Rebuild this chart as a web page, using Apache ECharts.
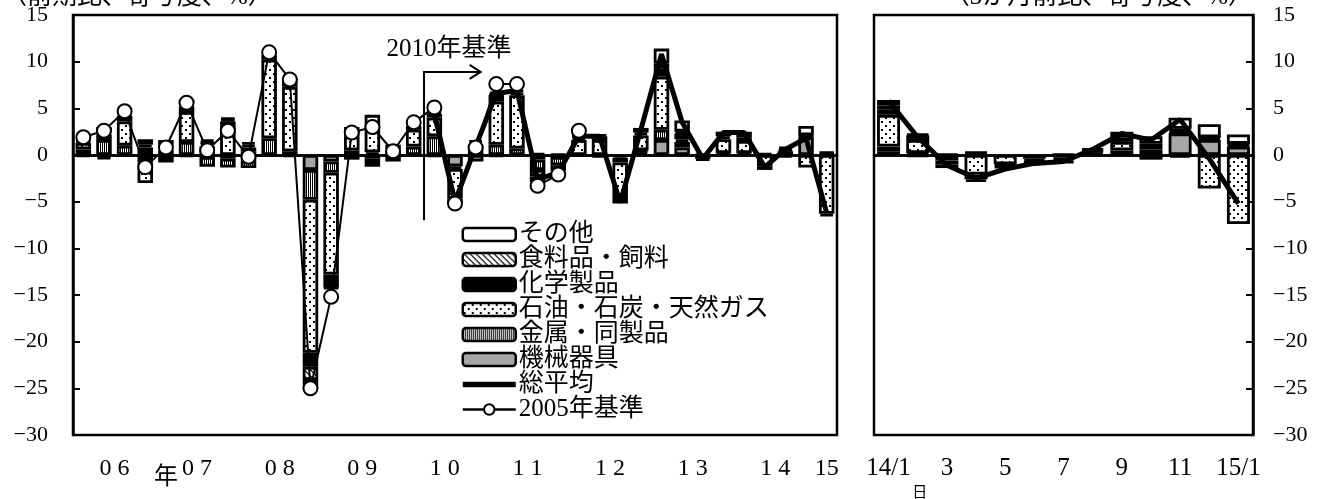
<!DOCTYPE html>
<html>
<head>
<meta charset="utf-8">
<script src="https://cdn.jsdelivr.net/npm/echarts@6.0.0/dist/echarts.min.js"></script>
<style>
  html, body { margin: 0; padding: 0; background: #fff; }
  #chart { width: 1320px; height: 499px; }
</style>
</head>
<body>
<div id="chart"></div>
<script>
// 四半期（前期比、寄与度、%） 2006/1Q - 2015/1Q
var quarters = ['06/1','06/2','06/3','06/4','07/1','07/2','07/3','07/4','08/1','08/2','08/3','08/4',
  '09/1','09/2','09/3','09/4','10/1','10/2','10/3','10/4','11/1','11/2','11/3','11/4',
  '12/1','12/2','12/3','12/4','13/1','13/2','13/3','13/4','14/1','14/2','14/3','14/4','15/1'];
var yearLabels = ['0 6', '0 7', '0 8', '0 9', '1 0', '1 1', '1 2', '1 3', '1 4', '15'];

var machineryQ = [-0.2,-0.2,-0.1,-0.2,-0.2,-0.2,-0.2,-0.4,-0.5,-0.1,-0.2,-1.6,-0.7,-0.5,-0.4,-0.2,-0.1,-0.2,-1.2,-0.7,-0.2,-0.1,-0.5,-0.2,-0.1,-0.1,-0.3,0.3,1.6,0.8,0,0.2,0.2,0.2,0.4,1.9,0.2];
var metalQ = [0.6,1.6,1.0,-0.6,0.5,1.4,-1.05,-0.95,-0.9,1.8,0.4,-3.2,-1.2,0.5,0.3,0,0.9,2.0,-0.3,0.4,1.1,0.7,-1.1,-0.9,0,-0.1,-0.5,0.2,1.1,0.6,0,0,0,0,0,0.1,0];
var oilQ = [0.7,0.6,2.6,-2.2,-0.6,3.2,0.9,3.0,0.4,8.4,6.9,-16.4,-10.9,1.5,2.6,0.4,1.8,2.0,-3.2,0.6,4.6,5.7,-0.7,-0.6,1.6,1.6,-3.6,1.6,5.7,0.3,-0.4,1.5,1.3,-1.2,-0.3,-1.35,-6.3];
var chemQ = [0.2,-0.25,0.6,0.8,0.3,0.6,0.3,0.6,0.4,0.5,0.6,-1.5,-1.4,0.5,-0.85,-0.5,0.4,0.4,-0.5,0.3,0.7,0.3,-0.6,-0.3,0.3,0.4,-0.8,0.3,0.9,0.6,-0.2,0.3,0.4,-0.4,0.2,0.1,-0.3];
var foodQ = [0.1,0.2,0.2,0.3,0.3,0.3,0.2,0.2,0.3,0.3,0.4,-1.4,-0.1,0,0.4,0.2,0.2,0,0,0,0.1,0,0,0,0,0.2,0,0,0.5,0.2,0,0,0,0,0,0,0];
var otherQ = [0.3,0.6,0.3,0.6,0.5,0.4,0.3,0.2,0.3,0.2,0.3,-0.9,0,0.5,1.0,0.5,0.3,0.2,0,0.3,0.3,0.3,0.2,0.1,0.2,0,0,0.5,1.6,1.2,0.1,0.5,0.6,0,0.3,1.0,0.1];
var totalQ = [null,null,null,null,null,null,null,null,null,null,null,null,null,null,null,null,null,
  4.4,-5.0,0.9,6.6,6.9,-2.6,-1.9,2.0,2.0,-5.1,2.7,10.8,3.5,-0.4,2.4,2.4,-1.3,0.6,1.8,-6.2];
var base2005Q = [1.9,2.6,4.7,-1.3,0.8,5.6,0.5,2.6,-0.2,11.0,8.1,-25.0,-15.2,2.4,3.0,0.4,3.5,5.1,-5.2,0.8,7.6,7.6,-3.3,-2.1,2.6,
  null,null,null,null,null,null,null,null,null,null,null,null];

// 月次（3か月前比、寄与度、%） 2014/1 - 2015/1
var months = ['14/1','14/2','14/3','14/4','14/5','14/6','14/7','14/8','14/9','14/10','14/11','14/12','15/1'];
var monthLabels = ['14/1','','3','','5','','7','','9','','11','','15/1'];
var machineryM = [0.4,0.2,0.1,0.2,0,0,0.1,0.3,0.5,0.6,2.3,1.6,0.9];
var metalM = [0.5,0,0,0.1,0,0,0,0,0,0,0.1,0,0];
var oilM = [3.4,1.4,-0.6,-2.1,-1.0,-0.4,-0.3,0.2,0.9,-0.5,-0.3,-3.6,-7.4];
var chemM = [0.6,0.5,-0.4,-0.5,-0.2,-0.3,-0.3,0,0.5,0.6,0.2,0.2,0.2];
var foodM = [0.4,-0.2,0,0,0,0,0,0,0,0,0.2,0.1,0.1];
var otherM = [0.6,0.15,-0.4,-0.3,-0.2,-0.2,-0.3,0.2,0.6,0.8,1.2,1.4,1.0];
var totalM = [5.8,1.9,-1.1,-2.5,-1.5,-0.9,-0.7,0.6,2.3,1.6,3.8,-0.4,-5.2];

var yTicks = [-30, 15, 5]; // min, max, interval

var FONT_NUM = '"Liberation Serif", "Noto Sans CJK JP", serif';

// 塗りパターン
function makePattern(w, h, draw) {
  var c = document.createElement('canvas');
  c.width = w; c.height = h;
  var g = c.getContext('2d');
  g.fillStyle = '#fff';
  g.fillRect(0, 0, w, h);
  draw(g);
  return { image: c, repeat: 'repeat' };
}
var whiteFill = '#ffffff';
var grayFill = '#a6a6a6';
var blackFill = '#000000';
var dotFill = makePattern(8, 8, function (g) {
  g.fillStyle = '#000';
  g.fillRect(1, 1, 2, 2);
  g.fillRect(5, 5, 2, 2);
});
var stripeFill = makePattern(2, 2, function (g) {
  g.fillStyle = '#000';
  g.fillRect(0, 0, 1, 2);
});
var hatchFill = makePattern(6, 6, function (g) {
  g.fillStyle = '#333';
  for (var i = 0; i < 6; i++) {
    g.fillRect(i, i, 1, 1);
    g.fillRect((i + 1) % 6, i, 1, 1);
  }
});

// 積み上げ順（下から）
var parts = [
  { name: '機械器具', q: machineryQ, m: machineryM, fill: grayFill },
  { name: '金属・同製品', q: metalQ, m: metalM, fill: stripeFill },
  { name: '石油・石炭・天然ガス', q: oilQ, m: oilM, fill: dotFill },
  { name: '化学製品', q: chemQ, m: chemM, fill: blackFill },
  { name: '食料品・飼料', q: foodQ, m: foodM, fill: hatchFill },
  { name: 'その他', q: otherQ, m: otherM, fill: whiteFill }
];

function clean(arr) {
  return arr.map(function (v) { return v === 0 ? null : v; });
}

var zeroLine = {
  silent: true, symbol: 'none', animation: false,
  label: { show: false },
  lineStyle: { color: '#000', width: 2.5, type: 'solid' },
  data: [{ yAxis: 0 }]
};

var series = [];
parts.forEach(function (p, k) {
  series.push({
    name: p.name, type: 'bar', stack: 'q', xAxisIndex: 0, yAxisIndex: 0,
    barWidth: 15.5, data: clean(p.q),
    itemStyle: { color: p.fill, borderColor: '#000', borderWidth: 2.8 },
    markLine: k === 0 ? zeroLine : undefined
  });
  series.push({
    name: p.name, type: 'bar', stack: 'm', xAxisIndex: 1, yAxisIndex: 1,
    barWidth: 23, data: clean(p.m),
    itemStyle: { color: p.fill, borderColor: '#000', borderWidth: 2.8 },
    markLine: k === 0 ? zeroLine : undefined
  });
});
series.push({
  name: '総平均', type: 'line', xAxisIndex: 0, yAxisIndex: 0, data: totalQ,
  symbol: 'none', z: 5, lineStyle: { color: '#000', width: 5 }, itemStyle: { color: '#000' }
});
series.push({
  name: '総平均', type: 'line', xAxisIndex: 1, yAxisIndex: 1, data: totalM,
  symbol: 'none', z: 5, lineStyle: { color: '#000', width: 5 }, itemStyle: { color: '#000' }
});
series.push({
  name: '2005年基準', type: 'line', xAxisIndex: 0, yAxisIndex: 0, data: base2005Q,
  symbol: 'circle', symbolSize: 14, showAllSymbol: true, z: 6,
  lineStyle: { color: '#000', width: 2 },
  itemStyle: { color: '#fff', borderColor: '#000', borderWidth: 2 }
});

function yLabel(v) { return v < 0 ? '\u2212' + (-v) : String(v); }

function yAxisFor(grid, pos) {
  return {
    gridIndex: grid, type: 'value', position: pos,
    min: yTicks[0], max: yTicks[1], interval: yTicks[2],
    splitLine: { show: false },
    axisLine: { show: true, lineStyle: { color: '#000', width: 2.5 } },
    axisTick: { show: true, inside: true, length: 7, lineStyle: { color: '#000', width: 2 } },
    axisLabel: { color: '#000', fontSize: 22, fontFamily: FONT_NUM, margin: pos === 'left' ? 25 : 20, formatter: yLabel }
  };
}

var tickEveryYear = function (i) { return i % 4 === 0; };

var option = {
  animation: false,
  backgroundColor: '#fff',
  grid: [
    { left: 73, top: 15, width: 764, height: 420, show: true, borderColor: '#000', borderWidth: 2.5 },
    { left: 874, top: 15, width: 379, height: 420, show: true, borderColor: '#000', borderWidth: 2.5 }
  ],
  xAxis: [
    {
      gridIndex: 0, type: 'category', data: quarters, position: 'bottom',
      axisLine: { lineStyle: { color: '#000', width: 2.5 } },
      axisTick: { inside: true, length: 8, interval: tickEveryYear, lineStyle: { color: '#000', width: 2 } },
      axisLabel: {
        interval: function (i) { return i % 4 === 1 || i === 36; },
        margin: 22, color: '#000', fontSize: 24, fontFamily: FONT_NUM,
        formatter: function (v, i) {
          if (i === 36) return yearLabels[9];
          return '{y|' + yearLabels[Math.floor(i / 4)] + '}';
        },
        rich: { y: { fontSize: 24, fontFamily: FONT_NUM, color: '#000', padding: [0, 0, 0, 21] } }
      }
    },
    {
      gridIndex: 1, type: 'category', data: months, position: 'bottom',
      axisLine: { lineStyle: { color: '#000', width: 2.5 } },
      axisTick: { show: false },
      axisLabel: {
        interval: 0, margin: 21, color: '#000', fontSize: 25, fontFamily: FONT_NUM,
        formatter: function (v, i) { return monthLabels[i]; }
      }
    },
    {
      gridIndex: 0, type: 'category', data: quarters, position: 'bottom',
      axisLine: { show: false },
      axisTick: { inside: false, length: 7, interval: tickEveryYear, lineStyle: { color: '#000', width: 2 } },
      axisLabel: { show: false }
    }
  ],
  yAxis: [yAxisFor(0, 'left'), yAxisFor(1, 'right')],
  legend: {
    orient: 'vertical', left: 455, top: 217,
    itemWidth: 53, itemHeight: 13, itemGap: 0,
    selectedMode: false,
    data: ['その他', '食料品・飼料', '化学製品', '石油・石炭・天然ガス', '金属・同製品', '機械器具',
      { name: '総平均', itemStyle: { opacity: 0 }, lineStyle: { width: 5.5, color: '#000' } },
      { name: '2005年基準', itemStyle: { color: '#fff', borderColor: '#000', borderWidth: 2 }, lineStyle: { width: 2.5, color: '#000' } }],
    textStyle: { color: '#000', fontSize: 25, lineHeight: 25, fontFamily: FONT_NUM, padding: [0, 0, 0, -2] },
    itemStyle: { borderColor: '#000', borderWidth: 2.5 }
  },
  series: series
};

var chart = echarts.init(document.getElementById('chart'));
chart.setOption(option);

// 注記類（軸の座標から配置）
var xb = (chart.convertToPixel({ gridIndex: 0 }, [16, 0])[0] + chart.convertToPixel({ gridIndex: 0 }, [17, 0])[0]) / 2;
var yTop = chart.convertToPixel({ gridIndex: 0 }, [0, 8.9])[1];
var yBot = chart.convertToPixel({ gridIndex: 0 }, [0, -7])[1];
var xe = chart.convertToPixel({ gridIndex: 0 }, [19, 0])[0] + 5;
var xNen = chart.convertToPixel({ gridIndex: 0 }, [4, 0])[0];
var xHi = chart.convertToPixel({ gridIndex: 1 }, [1, 0])[0] + 2;
var yAxisBottom = chart.convertToPixel({ gridIndex: 0 }, [0, -30])[1];

chart.setOption({
  graphic: [
    { type: 'polyline', shape: { points: [[xb, yBot], [xb, yTop], [xe, yTop]] }, style: { stroke: '#000', lineWidth: 2, fill: null }, z: 10 },
    { type: 'polyline', shape: { points: [[xe - 11, yTop - 7], [xe, yTop], [xe - 11, yTop + 7]] }, style: { stroke: '#000', lineWidth: 2, fill: null }, z: 10 },
    { type: 'text', x: xb + 25, y: yTop - 22, z: 10, style: { text: '2010年基準', font: '25px ' + FONT_NUM, fill: '#000', textAlign: 'center', textVerticalAlign: 'middle' } },
    { type: 'text', x: xNen, y: yAxisBottom + 40, z: 10, style: { text: '年', font: '24px "Noto Sans CJK JP"', fill: '#000', textAlign: 'center', textVerticalAlign: 'middle' } },
    { type: 'text', x: xHi, y: yAxisBottom + 56, z: 10, style: { text: '日', font: '15px "Noto Sans CJK JP"', fill: '#000', textAlign: 'center', textVerticalAlign: 'middle' } },
    { type: 'text', x: 2, y: -3, z: 10, style: { text: '（前期比、寄与度、%）', font: '25px ' + FONT_NUM, fill: '#000', textAlign: 'left', textVerticalAlign: 'middle' } },
    { type: 'text', x: 1253, y: -3, z: 10, style: { text: '（3か月前比、寄与度、%）', font: '25px ' + FONT_NUM, fill: '#000', textAlign: 'right', textVerticalAlign: 'middle' } }
  ]
});

window.onresize = function () { chart.resize(); };
</script>
</body>
</html>
